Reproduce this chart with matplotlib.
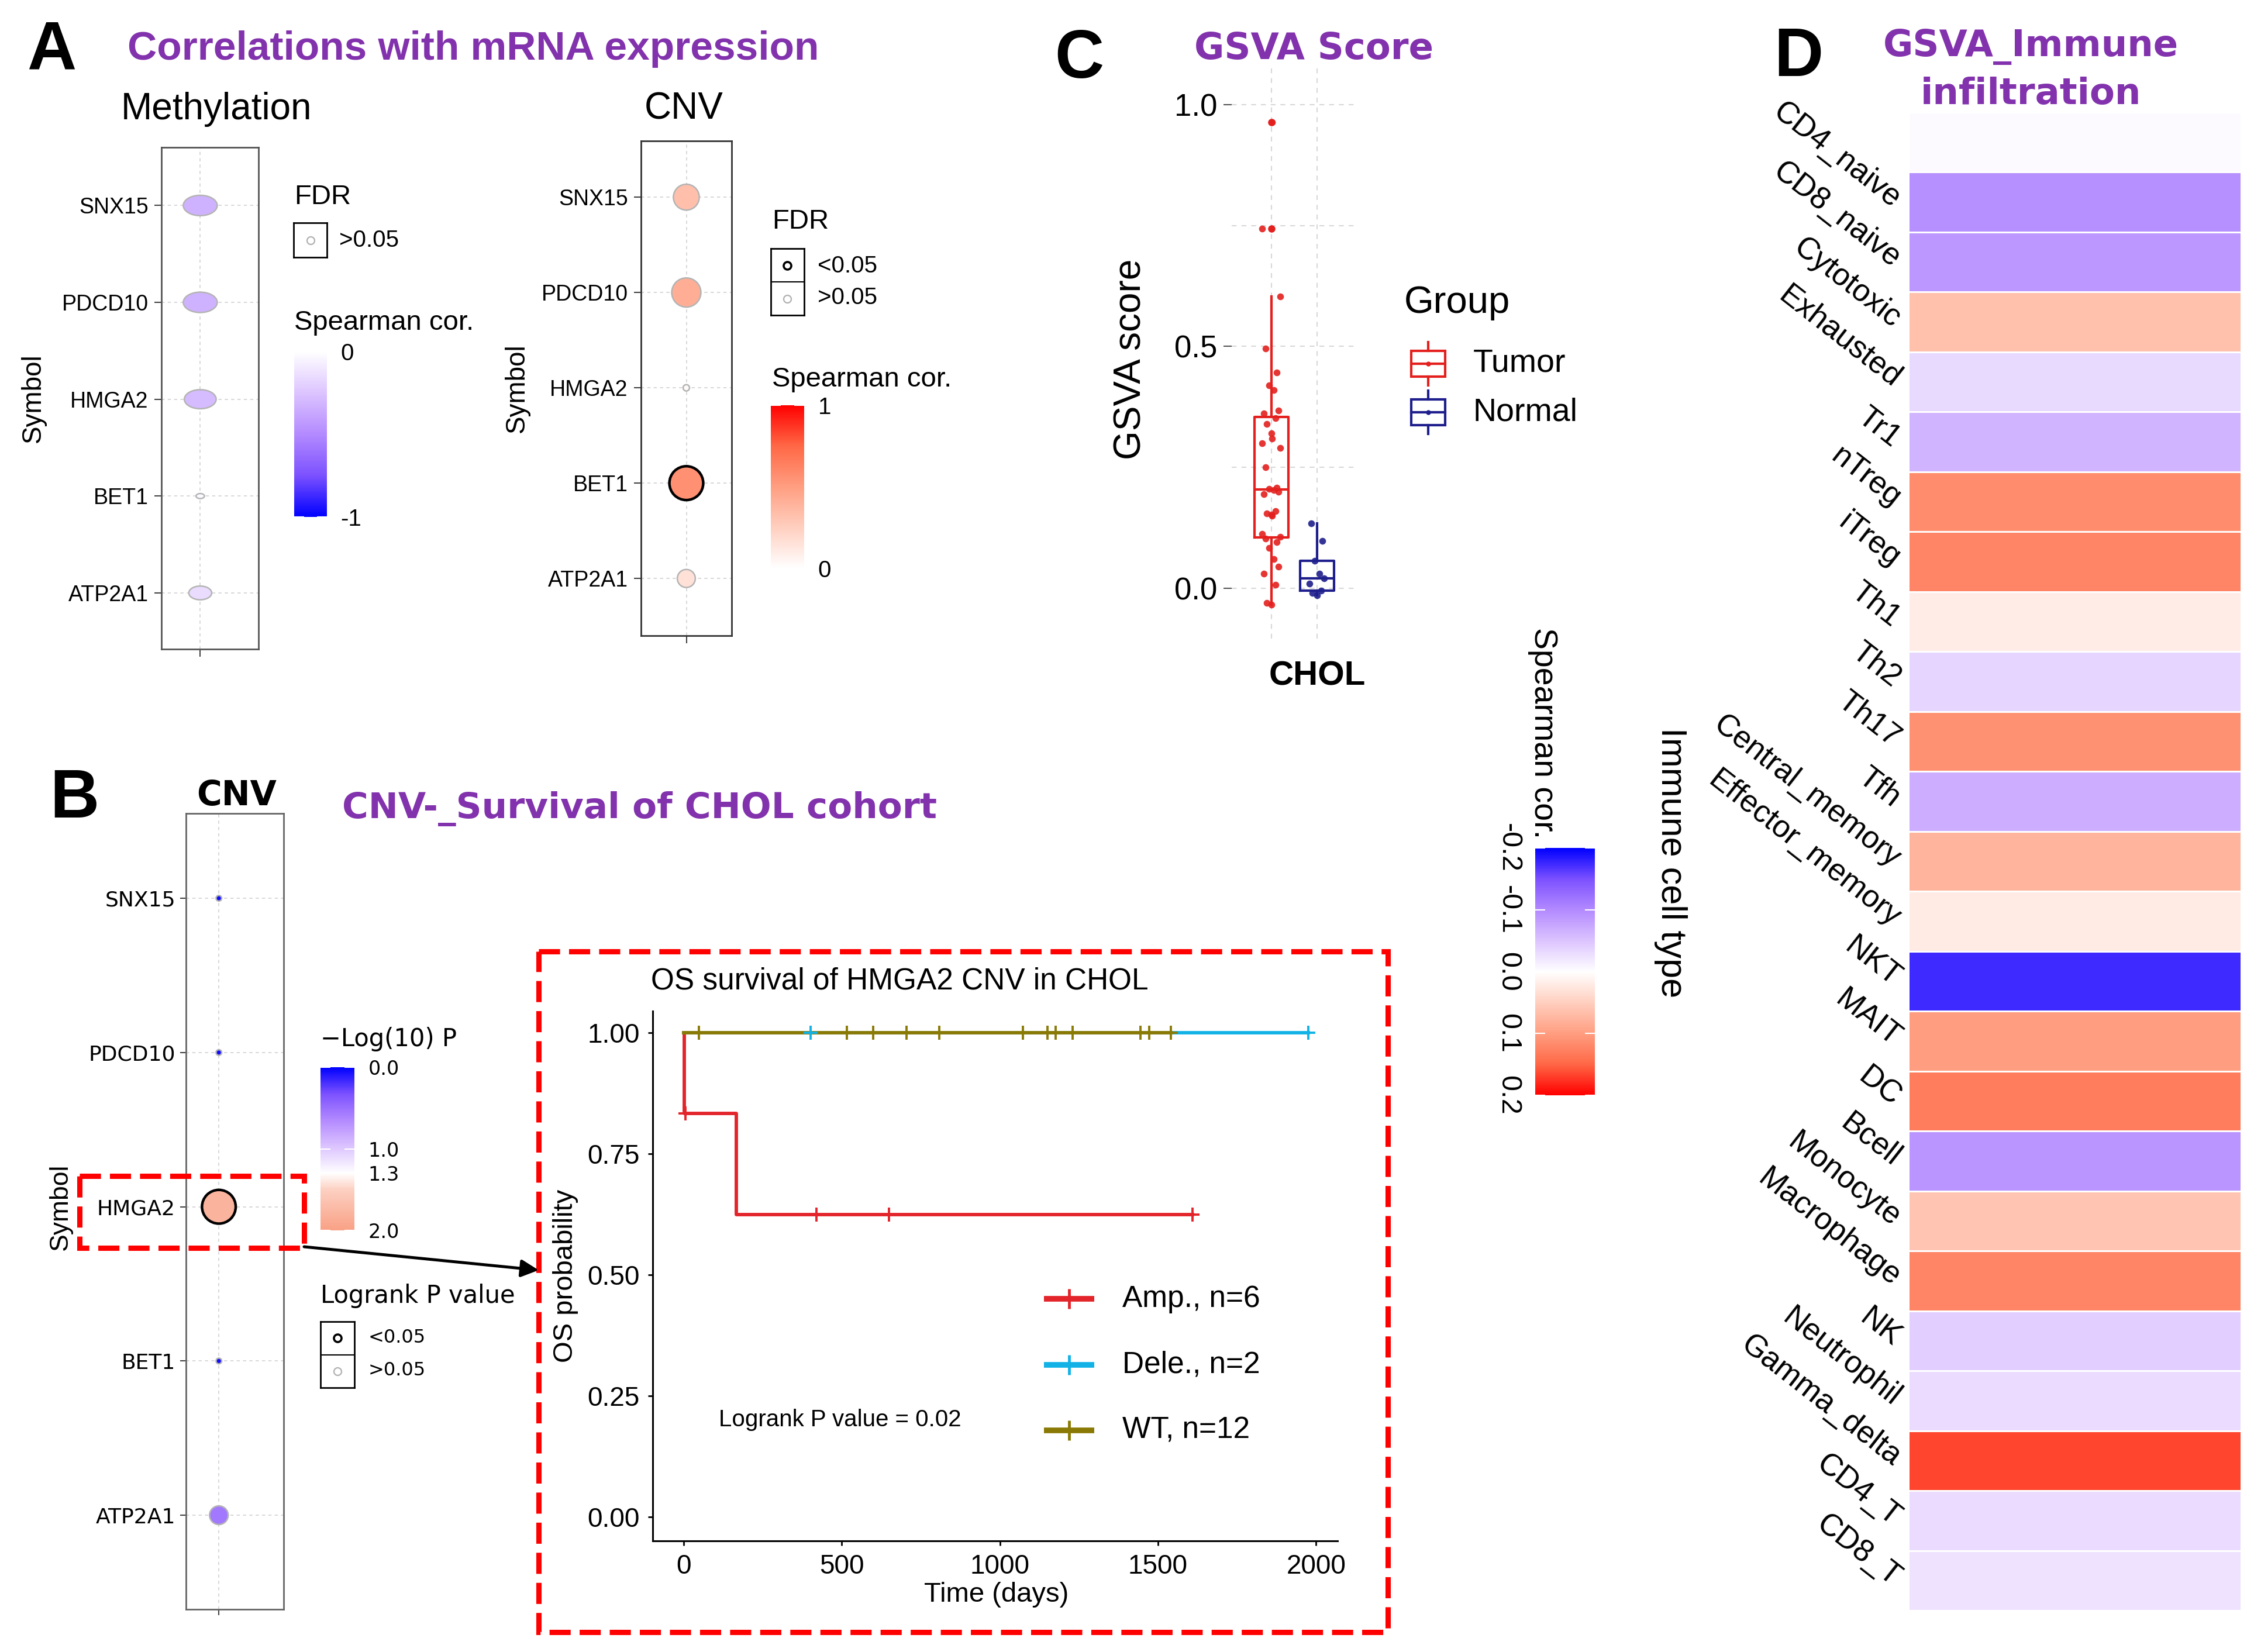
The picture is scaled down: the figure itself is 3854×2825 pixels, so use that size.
import numpy as np
import matplotlib
matplotlib.use("Agg")
import matplotlib.pyplot as plt
from matplotlib.colors import LinearSegmentedColormap, Normalize
from matplotlib.cm import ScalarMappable
from matplotlib.path import Path
from matplotlib.patches import Rectangle

plt.rcParams['font.family'] = ['Liberation Sans', 'DejaVu Sans']

W, H = 3855, 2825
PURPLE = '#8232ad'
DV = 'DejaVu Sans'

# ---- data ----
genes = ['SNX15', 'PDCD10', 'HMGA2', 'BET1', 'ATP2A1']
meth_cor = [-0.33, -0.33, -0.29, -0.02, -0.15]
meth_sig = [False, False, False, False, False]
cnv_cor = [0.33, 0.42, 0.02, 0.565, 0.16]
cnv_sig = [False, False, False, True, False]
surv_logp = [0.05, 0.05, 1.8, 0.05, 0.55]
surv_sig = [False, False, True, False, False]

amp_time = [2, 6, 166, 420, 650, 1610]
amp_event = [1, 0, 1, 0, 0, 0]
dele_time = [401, 1976]
dele_event = [0, 0]
wt_time = [48, 516, 600, 705, 808, 1073, 1150, 1176, 1230, 1445, 1472, 1541]
wt_event = [0] * 12

tumor_gsva = [-0.034, -0.030, 0.007, 0.030, 0.045, 0.060, 0.084, 0.095, 0.103, 0.106,
              0.113, 0.150, 0.152, 0.155, 0.160, 0.195, 0.200, 0.203, 0.205, 0.208,
              0.250, 0.290, 0.300, 0.310, 0.320, 0.340, 0.352, 0.362, 0.368, 0.410,
              0.420, 0.446, 0.496, 0.603, 0.744, 0.964]
normal_gsva = [-0.015, -0.010, -0.005, 0.010, 0.021, 0.030, 0.057, 0.098, 0.134]

cell_types = ['', 'CD4_naive', 'CD8_naive', 'Cytotoxic', 'Exhausted', 'Tr1', 'nTreg',
              'iTreg', 'Th1', 'Th2', 'Th17', 'Tfh', 'Central_memory', 'Effector_memory',
              'NKT', 'MAIT', 'DC', 'Bcell', 'Monocyte', 'Macrophage', 'NK', 'Neutrophil',
              'Gamma_delta', 'CD4_T', 'CD8_T']
cell_cor = [-0.004, -0.095, -0.088, 0.065, -0.032, -0.064, 0.117, 0.122, 0.020, -0.035,
            0.111, -0.069, 0.077, 0.021, -0.175, 0.100, 0.131, -0.092, 0.060, 0.123,
            -0.042, -0.030, 0.167, -0.030, -0.024]

# ---- colour scales (approx. Lab gradients like ggplot) ----
blue_ramp = ['#0000ff', '#7c51ff', '#b38aff', '#dcc4ff', '#ffffff']
red_ramp = ['#ffffff', '#ffcfbf', '#ff9e81', '#ff6846', '#ff0000']
cmap_meth = LinearSegmentedColormap.from_list('meth', blue_ramp)
cmap_cnv = LinearSegmentedColormap.from_list('cnv', red_ramp)
cmap_d = LinearSegmentedColormap.from_list('d', blue_ramp + red_ramp[1:])
cmap_b = LinearSegmentedColormap.from_list('b', [(0, '#0000ff'), (0.1625, '#7c51ff'),
                                                (0.325, '#b38aff'), (0.4875, '#dcc4ff'),
                                                (0.65, '#ffffff'), (0.75, '#fcd0c2'),
                                                (1.0, '#f9a185')])
norm_meth = Normalize(-1, 0)
norm_cnv = Normalize(0, 1)
norm_b = Normalize(0, 2)
norm_d = Normalize(-0.2, 0.2)

fig = plt.figure(figsize=(W / 100, H / 100), dpi=100)


def add_ax(x0, y0, x1, y1):
    return fig.add_axes([x0 / W, 1 - y1 / H, (x1 - x0) / W, (y1 - y0) / H])


def ftext(x, y, s, **kw):
    kw.setdefault('ha', 'center')
    kw.setdefault('va', 'center')
    return fig.text(x / W, 1 - y / H, s, **kw)


t = np.linspace(0, 2 * np.pi, 80)
ellipse = Path(np.column_stack([np.cos(t), 0.6 * np.sin(t)]), closed=True)


def dot_panel(ax, vals, sig, cmap, norm, widths, xlim, ylim, marker, frame,
              tlen, tpad, fs, family):
    y = np.arange(len(genes), 0, -1)
    ax.set_xlim(xlim)
    ax.set_ylim(ylim)
    ax.set_yticks(y)
    ax.set_yticklabels(genes, fontsize=fs, family=family)
    ax.set_xticks([1])
    ax.set_xticklabels([''])
    ax.grid(True, color='#d4d4d4', lw=1.3, ls=(0, (3, 3)))
    ax.set_axisbelow(True)
    ec = ['black' if s else '#b4b4b4' for s in sig]
    lw = [3.2 if s else 1.8 for s in sig]
    ax.scatter(np.ones(len(y)), y, s=(0.72 * np.asarray(widths)) ** 2,
               c=cmap(norm(vals)), edgecolors=ec, linewidths=lw, marker=marker, zorder=3)
    for sp in ax.spines.values():
        sp.set_color(frame)
        sp.set_linewidth(2)
    ax.tick_params(length=tlen, pad=tpad, color='#444', width=1.5)


def cbar(box, cmap, norm, ticks, labels, invert=False, fs=29, family=None, left=False):
    cax = add_ax(*box)
    cb = fig.colorbar(ScalarMappable(norm=norm, cmap=cmap), cax=cax)
    cb.outline.set_visible(False)
    cb.set_ticks(ticks)
    cb.set_ticklabels(labels)
    if invert:
        cax.invert_yaxis()
    cax.tick_params(axis='y', direction='in', length=12, width=1.5, colors='white',
                    labelcolor='black', labelsize=fs, pad=17, left=True, right=True,
                    labelleft=left, labelright=not left)
    if family:
        for lab in cax.get_yticklabels():
            lab.set_family(family)
    return cax


def key_box(box, sig_list):
    ax = add_ax(*box)
    n = len(sig_list)
    ax.set_xlim(0, 1)
    ax.set_ylim(0, n)
    for i, s in enumerate(sig_list):
        ax.scatter([0.5], [n - i - 0.5], s=(0.72 * 13) ** 2, facecolors='white',
                   edgecolors='black' if s else '#b0b0b0', linewidths=2.6 if s else 1.6)
    for k in range(1, n):
        ax.axhline(k, color='black', lw=1.5)
    ax.set_xticks([])
    ax.set_yticks([])
    for sp in ax.spines.values():
        sp.set_linewidth(2)


# ---- panel A ----
ftext(88, 88, 'A', fontsize=84, weight='bold')
ftext(809, 84, 'Correlations with mRNA expression', fontsize=50, weight='bold', color=PURPLE)
ftext(370, 187, 'Methylation', fontsize=46)
ftext(1169, 187, 'CNV', fontsize=46)

ax_m = add_ax(276, 252, 442, 1110)
dot_panel(ax_m, meth_cor, meth_sig, cmap_meth, norm_meth,
          101 * np.sqrt(np.abs(meth_cor)), (0.6, 1.6), (0.42, 5.6), ellipse,
          '#555555', 9, 7, 27, None)
ftext(57, 681, 'Symbol', fontsize=33, rotation=90)
ftext(503, 337, 'FDR', fontsize=34, ha='left')
key_box((502, 381, 559, 440), [False])
ftext(580, 411, '>0.05', fontsize=29, ha='left')
ftext(503, 552, 'Spearman cor.', fontsize=34, ha='left')
cbar((503, 601, 559, 884), cmap_meth, norm_meth, [-1, 0], ['-1', '0'])

ax_c1 = add_ax(1096, 241, 1251, 1087)
dot_panel(ax_c1, cnv_cor, cnv_sig, cmap_cnv, norm_cnv,
          77 * np.sqrt(np.abs(cnv_cor)), (0.5, 1.5), (0.4, 5.59), 'o',
          '#333333', 9, 7, 27, None)
ftext(884, 664, 'Symbol', fontsize=33, rotation=90)
ftext(1320, 379, 'FDR', fontsize=34, ha='left')
key_box((1318, 425, 1375, 539), [True, False])
ftext(1398, 455, '<0.05', fontsize=29, ha='left')
ftext(1398, 509, '>0.05', fontsize=29, ha='left')
ftext(1320, 649, 'Spearman cor.', fontsize=34, ha='left')
cbar((1318, 693, 1375, 972), cmap_cnv, norm_cnv, [0, 1], ['0', '1'])

# ---- panel B ----
ftext(127, 1368, 'B', fontsize=84, weight='bold')
ftext(405, 1360, 'CNV', fontsize=42, weight='bold', family=DV)
ftext(1094, 1383, 'CNV-_Survival of CHOL cohort', fontsize=44, weight='bold',
      color=PURPLE, family=DV)
ax_b = add_ax(318, 1391, 485, 2752)
dot_panel(ax_b, surv_logp, surv_sig, cmap_b, norm_b,
          43 * np.sqrt(surv_logp), (0.66, 1.67), (0.39, 5.55), 'o',
          '#666666', 7, 6, 26, DV)
ftext(103, 2064, 'Symbol', fontsize=32, rotation=90)
ftext(548, 1777, '\u2212Log(10) P', fontsize=30, family=DV, ha='left')
cbar((548, 1825, 606, 2104), cmap_b, norm_b, [0, 1.0, 1.3, 2.0],
     ['0.0', '1.0', '1.3', '2.0'], invert=True, fs=24, family=DV)
ftext(548, 2216, 'Logrank P value', fontsize=30, family=DV, ha='left')
key_box((548, 2260, 606, 2373), [True, False])
ftext(630, 2288, '<0.05', fontsize=23, family=DV, ha='left')
ftext(630, 2343, '>0.05', fontsize=23, family=DV, ha='left')


# ---- KM survival ----
def km(times, events):
    order = np.argsort(times)
    tt = np.asarray(times)[order]
    ee = np.asarray(events)[order]
    s, at_risk = 1.0, len(tt)
    xs, ys, cx, cy = [0], [1.0], [], []
    for ti, ei in zip(tt, ee):
        if ei:
            s *= (at_risk - 1) / at_risk
            xs.append(ti)
            ys.append(s)
        else:
            cx.append(ti)
            cy.append(s)
        at_risk -= 1
    xs.append(tt[-1])
    ys.append(s)
    return xs, ys, cx, cy


km_groups = [('Amp.', amp_time, amp_event, '#e3242b'),
             ('Dele.', dele_time, dele_event, '#12b2e6'),
             ('WT', wt_time, wt_event, '#8a7a05')]
ax_k = add_ax(1116, 1729, 2287, 2635)
curves = {}
for name, tm, ev, col in km_groups:
    xs, ys, cx, cy = km(tm, ev)
    curves[name] = (cx, cy, col)
    ax_k.step(xs, ys, where='post', color=col, lw=4.2, zorder=2)
for name in ['Amp.', 'WT', 'Dele.']:
    cx, cy, col = curves[name]
    ax_k.plot(cx, cy, ls='none', marker='+', ms=17, mew=2.8, color=col, zorder=3)
ax_k.set_xlim(-98, 2068)
ax_k.set_ylim(-0.05, 1.045)
ax_k.set_xticks([0, 500, 1000, 1500, 2000])
ax_k.set_yticks([0, 0.25, 0.5, 0.75, 1.0])
ax_k.set_yticklabels(['0.00', '0.25', '0.50', '0.75', '1.00'])
ax_k.tick_params(labelsize=33, length=6, width=2, pad=10)
for sp in ['top', 'right']:
    ax_k.spines[sp].set_visible(False)
for sp in ['left', 'bottom']:
    ax_k.spines[sp].set_linewidth(2.2)
ftext(1538, 1678, 'OS survival of HMGA2 CNV in CHOL', fontsize=37)
ftext(1704, 2727, 'Time (days)', fontsize=34)
ftext(967, 2182, 'OS probability', fontsize=34, rotation=90)
ftext(1436, 2428, 'Logrank P value = 0.02', fontsize=29)

# ---- panel C ----
ftext(1845, 102, 'C', fontsize=84, weight='bold')
ftext(2247, 84, 'GSVA Score', fontsize=45, weight='bold', color=PURPLE, family=DV)
RED, NAVY = '#e3201e', '#1e1e8c'
ax_g = add_ax(2106, 112, 2322, 1092)
ax_g.set_xlim(-0.87, 1.9)
ax_g.set_ylim(-0.104, 1.081)
jit = np.array([0.0, -0.10, 0.09, -0.17, 0.16, 0.05, -0.05, 0.12, -0.13, 0.20, -0.20, 0.02])
for pos, vals, col in [(0, tumor_gsva, RED), (1, normal_gsva, NAVY)]:
    ax_g.boxplot([vals], positions=[pos], widths=0.74, showcaps=False,
                 manage_ticks=False, whis=1.5,
                 boxprops=dict(color=col, lw=3), whiskerprops=dict(color=col, lw=3),
                 medianprops=dict(color=col, lw=3),
                 flierprops=dict(marker='o', markerfacecolor=col, markeredgecolor=col,
                                 markersize=8))
    ax_g.scatter(pos + jit[np.arange(len(vals)) % len(jit)], vals, s=70, color=col,
                 lw=0, zorder=3, alpha=0.9)
ax_g.set_xticks([0, 1])
ax_g.set_xticklabels(['', ''])
ax_g.set_yticks([0, 0.5, 1.0])
ax_g.set_yticklabels(['0.0', '0.5', '1.0'])
ax_g.set_yticks([0.25, 0.75], minor=True)
ax_g.grid(True, which='both', color='#d8d8d8', ls=(0, (4, 4)), lw=1.5)
ax_g.set_axisbelow(True)
ax_g.tick_params(axis='x', length=0)
ax_g.tick_params(axis='y', which='major', labelsize=38, length=10, width=1.5,
                 color='#555', pad=8)
ax_g.tick_params(axis='y', which='minor', length=0)
for sp in ax_g.spines.values():
    sp.set_visible(False)
ftext(1934, 614, 'GSVA score', fontsize=46, rotation=90)
ftext(2252, 1156, 'CHOL', fontsize=42, weight='bold')
ftext(2401, 518, 'Group', fontsize=47, ha='left')
ftext(2519, 622, 'Tumor', fontsize=40, ha='left')
ftext(2519, 705, 'Normal', fontsize=40, ha='left')

# ---- panel D ----
ftext(3075, 100, 'D', fontsize=84, weight='bold')
ftext(3472, 80, 'GSVA_Immune', fontsize=45, weight='bold', color=PURPLE, family=DV)
ftext(3472, 161, 'infiltration', fontsize=45, weight='bold', color=PURPLE, family=DV)
ax_d = add_ax(3263, 192, 3832, 2754)
ax_d.pcolormesh(np.asarray(cell_cor).reshape(-1, 1), cmap=cmap_d, norm=norm_d,
                edgecolors='white', linewidth=2)
ax_d.set_ylim(len(cell_types), 0)
ax_d.set_yticks(np.arange(len(cell_types)) + 0.5)
ax_d.set_yticklabels(cell_types, rotation=-38, ha='right', va='center',
                     rotation_mode='anchor', fontsize=38)
ax_d.tick_params(axis='y', length=0, pad=14)
ax_d.set_xticks([])
for sp in ax_d.spines.values():
    sp.set_visible(False)
ftext(2638, 1254, 'Spearman cor.', fontsize=40, rotation=-90)
ftext(2857, 1475, 'Immune cell type', fontsize=44, rotation=-90)
cax_d = cbar((2625, 1450, 2727, 1873), cmap_d, norm_d, [-0.2, -0.1, 0.0, 0.1, 0.2],
             ['-0.2', '-0.1', '0.0', '0.1', '0.2'], invert=True, fs=35, left=True)
for lab in cax_d.get_yticklabels():
    lab.set_rotation(-90)
    lab.set_va('center')

# ---- overlay: legend glyphs, callout boxes, arrow ----
ov = fig.add_axes([0, 0, 1, 1])
ov.set_xlim(0, W)
ov.set_ylim(H, 0)
ov.axis('off')
ov.patch.set_alpha(0)

for yc, col in [(622, RED), (705, NAVY)]:
    ov.add_patch(Rectangle((2413, yc - 22), 58, 44, fill=False, ec=col, lw=3))
    ov.plot([2413, 2471], [yc, yc], color=col, lw=3)
    ov.plot([2442, 2442], [yc - 37, yc - 22], color=col, lw=3)
    ov.plot([2442, 2442], [yc + 22, yc + 37], color=col, lw=3)
    ov.plot([2442], [yc], 'o', color=col, ms=5)

for (name, tm, ev, col), yc in zip(km_groups, [2221, 2334, 2446]):
    ov.plot([1785, 1871], [yc, yc], color=col, lw=7, solid_capstyle='butt')
    ov.plot([1828], [yc], marker='+', ms=24, mew=3.5, color=col)
    ftext(1919, yc, f'{name}, n={len(tm)}', fontsize=37, ha='left')

ov.add_patch(Rectangle((921, 1627), 1452, 1164, fill=False, ec='#ff0000', lw=6.5,
                       ls=(0, (4, 1.7))))
ov.add_patch(Rectangle((136, 2011), 384, 123, fill=False, ec='#ff0000', lw=6.5,
                       ls=(0, (4, 1.7))))
ov.annotate('', xy=(921, 2172), xytext=(520, 2132),
            arrowprops=dict(arrowstyle='-|>', lw=3.6, color='black', mutation_scale=45,
                            shrinkA=0, shrinkB=0))

fig.savefig('out.png', dpi=100, facecolor='white')
